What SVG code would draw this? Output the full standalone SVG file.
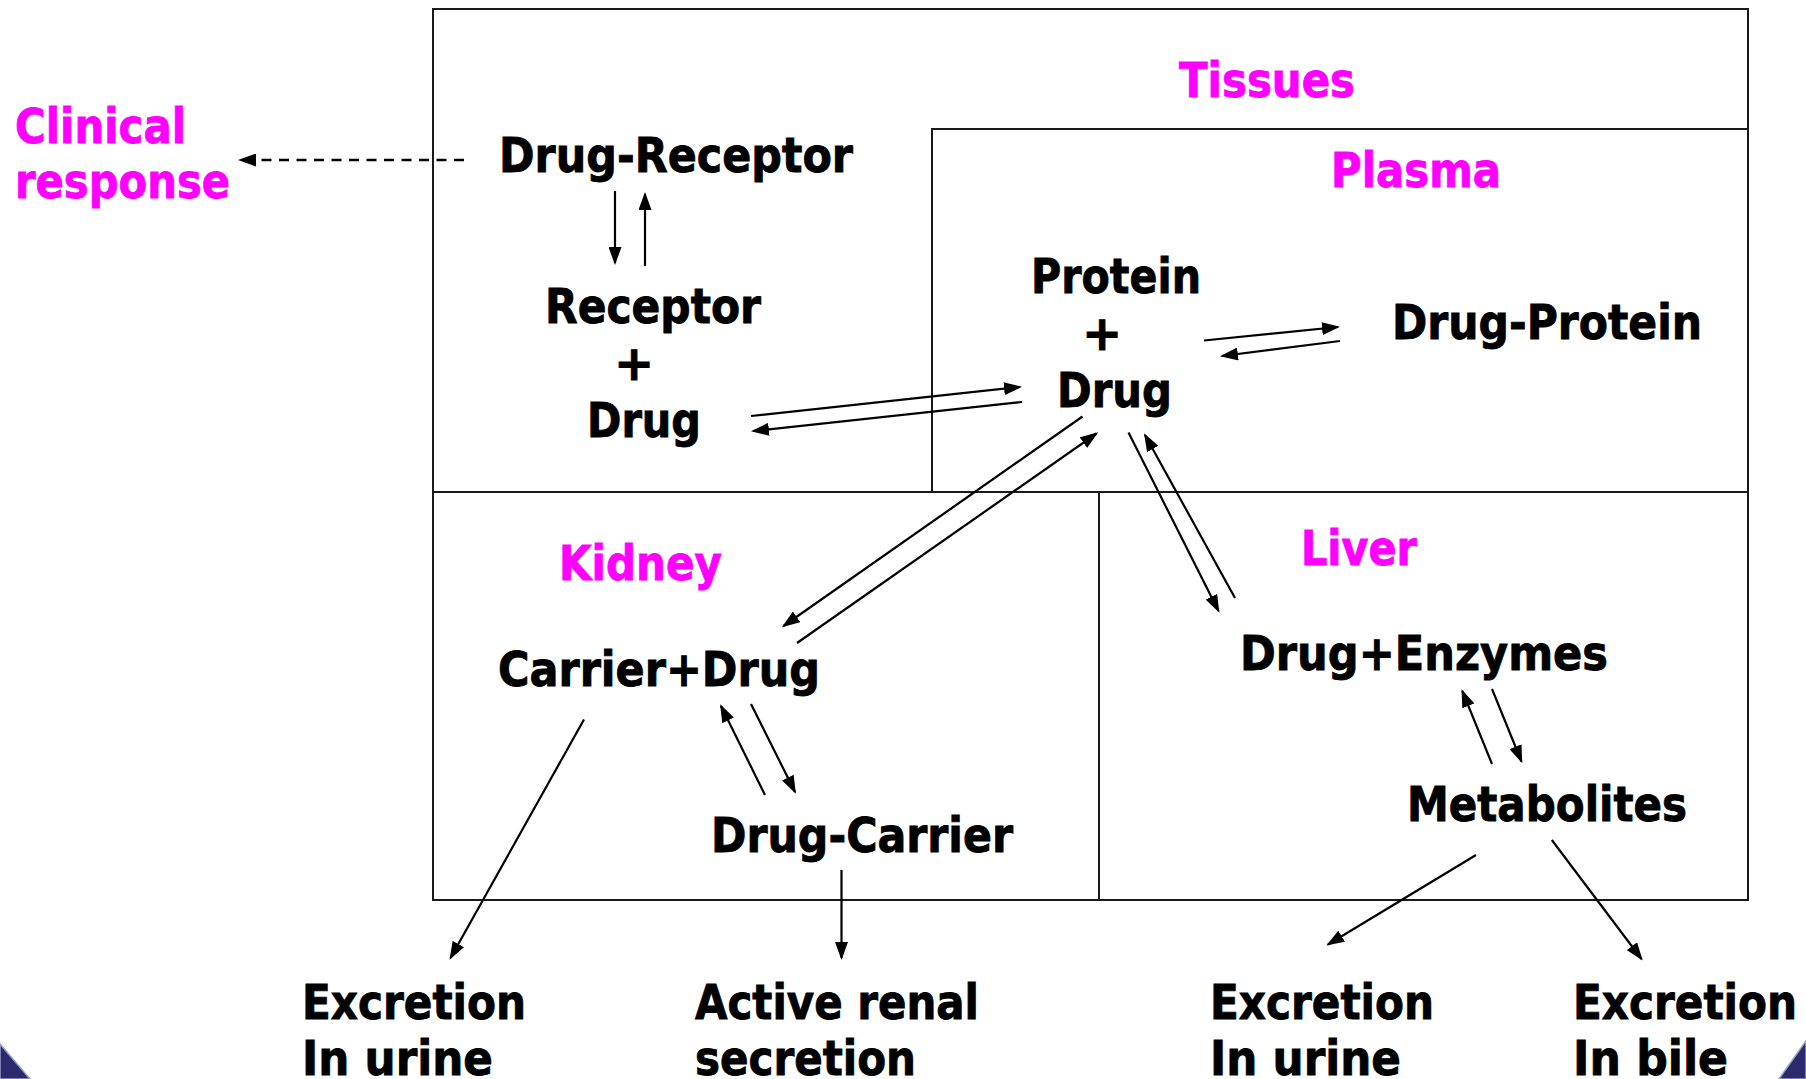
<svg xmlns="http://www.w3.org/2000/svg" width="1806" height="1079" viewBox="0 0 1806 1079">
<style>
  text { font-family: "DejaVu Sans", "Liberation Sans", sans-serif; font-weight: bold; font-size: 48px; fill: #000; stroke: #000; stroke-width: 0.9; }
  text.region { fill: #FF00FF; stroke: #FF00FF; }
  .box { fill: none; stroke: #1a1a1a; stroke-width: 2; }
  .conn line { stroke: #000; stroke-width: 2.2; marker-end: url(#ah); }
  .conn line.dash { stroke-dasharray: 10 7.5; stroke-width: 2.4; }
</style>
<defs>
  <marker id="ah" viewBox="0 0 18 13" refX="16" refY="6.5" markerWidth="18" markerHeight="13" markerUnits="userSpaceOnUse" orient="auto">
    <path d="M0,0 L18,6.5 L0,13 z" fill="#000"/>
  </marker>
</defs>
<rect width="1806" height="1079" fill="#fff"/>

<!-- slide corner decorations -->
<path d="M0,1044 L30,1079 L0,1079 z" fill="#2a2a6c" stroke="#9a9ac8" stroke-width="1.5"/>
<path d="M1806,1041 L1779,1079 L1806,1079 z" fill="#2a2a6c" stroke="#9a9ac8" stroke-width="1.5"/>

<!-- compartments -->
<g id="compartments">
  <rect class="box" x="433" y="9" width="1315" height="891"/>
  <line class="box" x1="433" y1="492" x2="1748" y2="492"/>
  <polyline class="box" points="1748,129 932,129 932,492"/>
  <line class="box" x1="1099" y1="492" x2="1099" y2="900"/>
</g>

<!-- region labels -->
<g id="label-clinical"><text class="region" x="15" y="143" textLength="171" lengthAdjust="spacingAndGlyphs">Clinical</text><text class="region" x="15" y="198" textLength="215" lengthAdjust="spacingAndGlyphs">response</text></g>
<g id="label-tissues"><text class="region" x="1179" y="97" textLength="176" lengthAdjust="spacingAndGlyphs">Tissues</text></g>
<g id="label-plasma"><text class="region" x="1331" y="187" textLength="170" lengthAdjust="spacingAndGlyphs">Plasma</text></g>
<g id="label-kidney"><text class="region" x="559" y="580" textLength="163" lengthAdjust="spacingAndGlyphs">Kidney</text></g>
<g id="label-liver"><text class="region" x="1301" y="565" textLength="116" lengthAdjust="spacingAndGlyphs">Liver</text></g>

<!-- nodes -->
<g id="node-drug-receptor"><text x="499" y="172" textLength="354" lengthAdjust="spacingAndGlyphs">Drug-Receptor</text></g>
<g id="node-receptor-drug">
  <text x="545" y="323" textLength="216" lengthAdjust="spacingAndGlyphs">Receptor</text>
  <text x="634" y="380" text-anchor="middle">+</text>
  <text x="587" y="437" textLength="114" lengthAdjust="spacingAndGlyphs">Drug</text>
</g>
<g id="node-protein-drug">
  <text x="1031" y="293" textLength="170" lengthAdjust="spacingAndGlyphs">Protein</text>
  <text x="1102" y="350" text-anchor="middle">+</text>
  <text x="1057" y="407" textLength="115" lengthAdjust="spacingAndGlyphs">Drug</text>
</g>
<g id="node-drug-protein"><text x="1392" y="339" textLength="310" lengthAdjust="spacingAndGlyphs">Drug-Protein</text></g>
<g id="node-carrier-drug"><text x="498" y="686" textLength="322" lengthAdjust="spacingAndGlyphs">Carrier+Drug</text></g>
<g id="node-drug-carrier"><text x="711" y="852" textLength="302" lengthAdjust="spacingAndGlyphs">Drug-Carrier</text></g>
<g id="node-drug-enzymes"><text x="1240" y="670" textLength="368" lengthAdjust="spacingAndGlyphs">Drug+Enzymes</text></g>
<g id="node-metabolites"><text x="1407" y="821" textLength="280" lengthAdjust="spacingAndGlyphs">Metabolites</text></g>
<g id="node-excretion-urine-1"><text x="302" y="1019" textLength="224" lengthAdjust="spacingAndGlyphs">Excretion</text><text x="302" y="1075" textLength="191" lengthAdjust="spacingAndGlyphs">In urine</text></g>
<g id="node-active-renal"><text x="695" y="1019" textLength="284" lengthAdjust="spacingAndGlyphs">Active renal</text><text x="695" y="1075" textLength="221" lengthAdjust="spacingAndGlyphs">secretion</text></g>
<g id="node-excretion-urine-2"><text x="1210" y="1019" textLength="224" lengthAdjust="spacingAndGlyphs">Excretion</text><text x="1210" y="1075" textLength="191" lengthAdjust="spacingAndGlyphs">In urine</text></g>
<g id="node-excretion-bile"><text x="1573" y="1019" textLength="224" lengthAdjust="spacingAndGlyphs">Excretion</text><text x="1573" y="1075" textLength="155" lengthAdjust="spacingAndGlyphs">In bile</text></g>

<!-- connectors -->
<g id="connectors" class="conn">
  <line class="dash" x1="464" y1="160" x2="240" y2="160"/>
  <line x1="615" y1="191" x2="615" y2="263"/>
  <line x1="645" y1="266" x2="645" y2="194"/>
  <line x1="751" y1="416" x2="1020" y2="387"/>
  <line x1="1022" y1="402" x2="753" y2="431"/>
  <line x1="1204" y1="340.5" x2="1338" y2="327"/>
  <line x1="1340" y1="341" x2="1222" y2="356"/>
  <line x1="1082.5" y1="416.5" x2="783.5" y2="626"/>
  <line x1="797" y1="643" x2="1096.5" y2="433.5"/>
  <line x1="1128.5" y1="432.5" x2="1218.5" y2="611"/>
  <line x1="1235" y1="598" x2="1145" y2="435"/>
  <line x1="751" y1="704" x2="795" y2="792"/>
  <line x1="765" y1="795" x2="721" y2="706"/>
  <line x1="584" y1="719.5" x2="450.5" y2="958"/>
  <line x1="841.5" y1="870" x2="841.5" y2="958"/>
  <line x1="1492" y1="689" x2="1521.5" y2="761.5"/>
  <line x1="1492" y1="764" x2="1462.3" y2="691"/>
  <line x1="1476" y1="855" x2="1328" y2="944.5"/>
  <line x1="1551.8" y1="840" x2="1641.5" y2="959"/>
</g>
</svg>
